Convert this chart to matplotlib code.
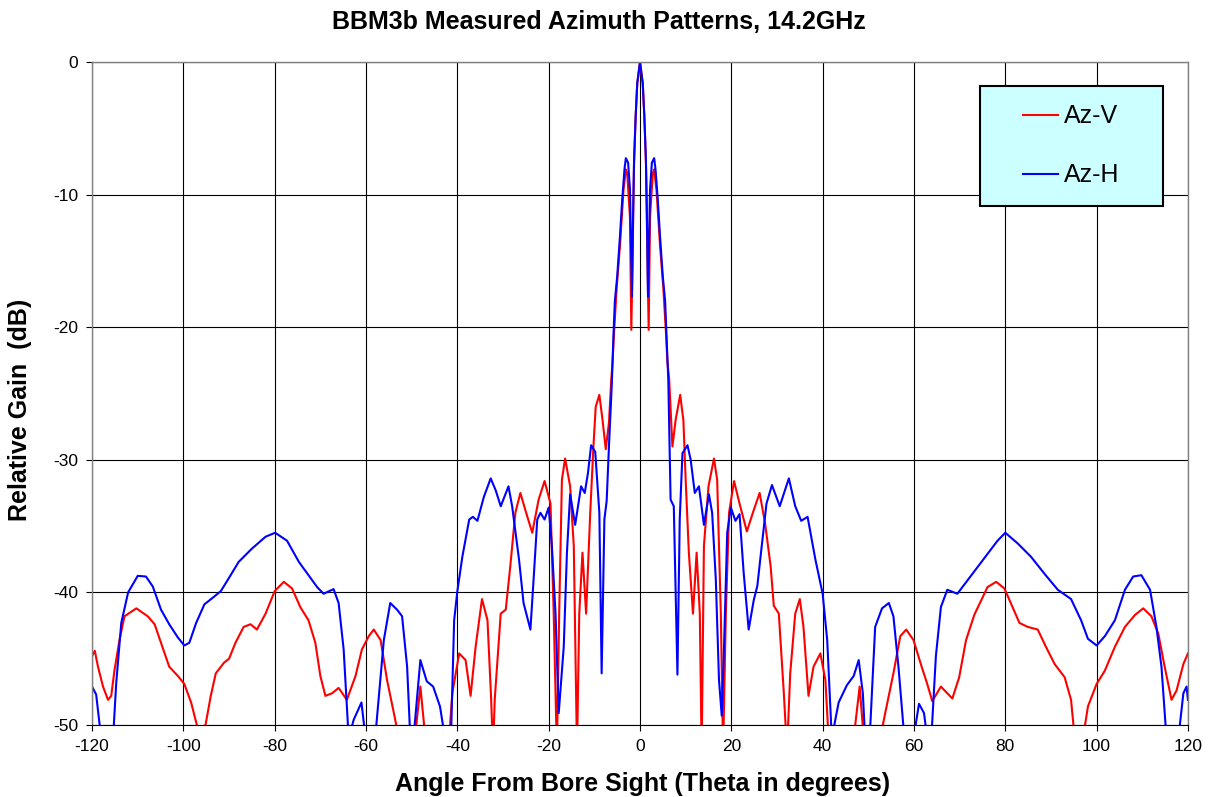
import matplotlib
matplotlib.use("Agg")
import matplotlib.pyplot as plt
from matplotlib.patches import Rectangle

plt.rcParams["font.family"] = ["Liberation Sans", "DejaVu Sans"]
plt.rcParams["axes.unicode_minus"] = False

# values (dB relative to peak); -51 means off the bottom of the chart
az_v_angle = [
    -120, -119.4, -118.7, -117.6, -116.5, -115.8, -115.1, -114.0, -112.9, -110.3,
    -107.8, -106.3, -104.9, -103.1, -101.2, -99.8, -98.3, -97.2, -96.2, -95.1,
    -94.0, -92.9, -91.1, -90.0, -88.6, -86.8, -85.3, -83.9, -82.0, -80.0,
    -78.0, -76.2, -74.4, -72.6, -71.1, -70.0, -68.9, -67.4, -66.0, -64.2,
    -62.3, -60.9, -59.4, -58.3, -56.8, -55.4, -53.9, -52.8, -49.3, -48.1,
    -47.0, -41.8, -41.1, -39.6, -38.2, -37.1, -36.0, -34.6, -33.4, -32.6,
    -32.2, -31.8, -30.5, -29.4, -28.4, -27.3, -26.2, -25.1, -23.6, -22.2,
    -20.9, -19.6, -18.9, -18.2, -17.7, -17.1, -16.4, -15.3, -14.5, -13.8,
    -13.3, -12.6, -11.8, -10.9, -10.2, -9.7, -8.9, -8.2, -7.5, -6.8,
    -6.3, -6.0, -5.7, -5.1, -4.4, -3.6, -3.1, -2.8, -2.2, -1.9,
    -1.6, -1.3, -0.95, -0.6, 0,
    0.6, 0.95, 1.3, 1.6, 1.9, 2.2, 2.8, 3.1, 3.6, 4.4,
    5.1, 5.7, 6.0, 6.4, 7.1, 7.8, 8.8, 9.5, 10.0, 10.7,
    11.6, 12.4, 13.1, 13.5, 14.0, 15.0, 16.2, 16.9, 17.7, 18.2,
    18.8, 19.5, 20.6, 21.8, 23.4, 24.9, 26.2, 27.4, 28.6, 29.3,
    30.4, 31.5, 32.2, 32.9, 34.0, 35.0, 35.8, 36.9, 38.0, 39.5,
    40.6, 41.3, 46.8, 48.1, 49.0, 52.6, 53.7, 55.5, 57.0, 58.3,
    59.9, 61.5, 62.9, 64.0, 65.9, 68.4, 69.9, 71.4, 73.2, 76.1,
    78.0, 79.8, 81.2, 83.1, 84.9, 87.1, 88.9, 90.8, 93.0, 94.4,
    95.2, 97.0, 98.1, 100.0, 101.8, 104.0, 106.2, 108.4, 110.2, 112.0,
    113.5, 114.9, 116.4, 117.5, 119.0, 120,
]
az_v_gain = [
    -44.8, -44.4, -45.6, -47.1, -48.1, -47.8, -45.9, -43.6, -41.8, -41.2,
    -41.8, -42.4, -43.8, -45.6, -46.3, -46.9, -48.3, -49.8, -51.0, -49.9,
    -47.8, -46.1, -45.3, -45.0, -43.8, -42.6, -42.4, -42.8, -41.6, -39.9,
    -39.2, -39.7, -41.1, -42.1, -43.8, -46.3, -47.8, -47.6, -47.2, -48.1,
    -46.3, -44.3, -43.3, -42.8, -43.6, -46.6, -49.1, -51.0, -51.0, -47.1,
    -51.0, -51.0, -47.6, -44.6, -45.1, -47.8, -44.1, -40.5, -42.1, -48.0,
    -52.0, -48.0, -41.6, -41.3, -38.0, -34.0, -32.5, -33.8, -35.5, -33.0,
    -31.6, -33.3, -41.6, -52.0, -41.6, -31.5, -29.9, -32.0, -36.5, -52.0,
    -41.6, -37.0, -41.6, -34.0, -29.0, -26.0, -25.1, -27.0, -29.2, -27.2,
    -24.0, -22.6, -20.5, -17.0, -13.9, -9.6, -8.1, -8.4, -11.7, -20.2,
    -14.2, -7.6, -4.1, -1.6, 0.0,
    -1.6, -4.1, -7.6, -14.2, -20.2, -11.7, -8.4, -8.1, -9.6, -13.9,
    -17.0, -20.5, -22.6, -24.0, -29.0, -27.0, -25.1, -27.0, -31.5, -37.0,
    -41.6, -37.0, -41.6, -52.0, -36.5, -32.0, -29.9, -31.5, -41.6, -52.0,
    -41.6, -34.0, -31.6, -33.3, -35.4, -33.8, -32.5, -34.8, -38.0, -41.0,
    -41.6, -47.6, -52.0, -46.1, -41.6, -40.5, -42.6, -47.8, -45.6, -44.6,
    -46.6, -51.0, -51.0, -47.1, -51.0, -51.0, -49.1, -46.1, -43.3, -42.8,
    -43.6, -45.4, -46.9, -48.2, -47.1, -48.0, -46.4, -43.6, -41.7, -39.6,
    -39.2, -39.7, -40.8, -42.3, -42.6, -42.8, -44.1, -45.4, -46.4, -48.1,
    -51.0, -51.0, -48.6, -46.9, -45.9, -44.1, -42.6, -41.7, -41.2, -41.8,
    -43.1, -45.6, -48.1, -47.4, -45.4, -44.6,
]

az_h_angle = [
    -120, -119.1, -118.0, -115.4, -114.7, -113.6, -112.1, -110.0, -108.2, -106.7,
    -104.9, -103.1, -101.2, -99.8, -98.7, -97.2, -95.4, -93.2, -91.8, -90.0,
    -87.9, -85.0, -82.0, -79.9, -77.3, -74.7, -72.6, -70.7, -69.3, -67.1,
    -66.0, -64.9, -63.8, -62.7, -61.0, -60.1, -58.0, -56.1, -54.7, -53.2,
    -52.1, -51.0, -50.3, -49.6, -48.1, -46.7, -45.3, -43.8, -42.7, -41.4,
    -40.7, -40.0, -38.9, -37.4, -36.6, -35.6, -34.2, -32.7, -31.6, -30.5,
    -28.8, -28.0, -26.5, -25.5, -24.0, -23.3, -22.5, -21.8, -20.9, -20.0,
    -19.3, -18.5, -17.8, -16.7, -16.0, -15.3, -14.2, -12.9, -12.1, -11.4,
    -10.7, -9.8, -8.9, -8.4, -7.8, -7.3, -6.8, -6.2, -5.8, -5.5,
    -5.0, -4.4, -3.9, -3.4, -3.1, -2.6, -2.2, -1.75, -1.5, -1.3,
    -0.95, -0.6, 0,
    0.6, 0.95, 1.3, 1.5, 1.75, 2.2, 2.6, 3.1, 3.4, 3.9,
    4.4, 5.0, 5.5, 5.8, 6.2, 6.7, 7.4, 8.2, 8.7, 9.3,
    10.4, 11.1, 12.0, 12.9, 14.0, 15.1, 15.8, 16.6, 17.3, 17.9,
    18.4, 19.1, 19.9, 20.9, 21.8, 22.7, 23.8, 24.9, 25.7, 26.4,
    27.7, 28.9, 30.6, 32.6, 34.0, 35.3, 36.7, 38.4, 40.0, 41.0,
    42.0, 43.5, 45.3, 46.8, 47.9, 48.8, 49.3, 50.3, 51.5, 53.0,
    54.5, 55.5, 56.6, 57.9, 59.9, 61.1, 62.2, 62.9, 63.8, 64.8,
    65.9, 67.3, 69.5, 71.7, 73.9, 76.1, 78.3, 80.0, 82.7, 85.6,
    88.6, 91.5, 94.4, 96.6, 98.1, 100.0, 101.8, 104.0, 106.2, 108.0,
    109.8, 111.7, 113.1, 114.2, 115.3, 117.9, 119.0, 119.7, 120,
]
az_h_gain = [
    -47.1, -47.7, -51.0, -51.0, -46.8, -42.3, -40.0, -38.75, -38.8, -39.55,
    -41.3, -42.4, -43.4, -44.0, -43.8, -42.3, -40.9, -40.3, -39.9, -38.9,
    -37.7, -36.7, -35.8, -35.5, -36.1, -37.7, -38.7, -39.6, -40.1, -39.75,
    -40.8, -44.3, -51.0, -49.6, -48.3, -51.0, -51.0, -43.6, -40.8, -41.3,
    -41.8, -45.6, -51.0, -51.0, -45.1, -46.7, -47.1, -48.6, -51.0, -51.0,
    -42.1, -39.9, -37.3, -34.5, -34.3, -34.6, -32.8, -31.4, -32.3, -33.5,
    -32.0, -33.5, -37.5, -40.8, -42.8, -39.0, -34.5, -34.0, -34.5, -33.6,
    -36.5, -41.6, -49.1, -44.1, -37.0, -32.6, -34.9, -32.0, -32.5, -31.0,
    -28.9, -29.4, -34.0, -46.1, -34.5, -33.1, -29.0, -24.5, -20.5, -18.0,
    -16.2, -13.2, -10.4, -8.1, -7.25, -7.6, -9.6, -17.7, -11.2, -7.4,
    -4.1, -1.6, 0.0,
    -1.6, -4.1, -7.4, -11.2, -17.7, -9.6, -7.6, -7.25, -8.1, -10.4,
    -13.2, -16.2, -18.0, -20.5, -24.0, -33.0, -33.5, -46.2, -34.5, -29.5,
    -28.9, -30.0, -32.5, -32.0, -34.9, -32.6, -34.0, -39.0, -46.6, -49.3,
    -44.1, -35.5, -33.6, -34.6, -34.1, -38.5, -42.8, -40.6, -39.5, -37.3,
    -33.3, -31.9, -33.5, -31.4, -33.5, -34.6, -34.3, -37.5, -40.1, -43.6,
    -51.0, -48.3, -47.0, -46.3, -45.1, -47.6, -51.0, -51.0, -42.6, -41.2,
    -40.8, -41.8, -45.6, -51.0, -51.0, -48.4, -49.1, -51.0, -51.0, -44.8,
    -41.1, -39.8, -40.1, -39.1, -38.1, -37.1, -36.1, -35.5, -36.3, -37.3,
    -38.6, -39.8, -40.5, -42.1, -43.5, -44.0, -43.3, -42.1, -39.8, -38.8,
    -38.7, -39.8, -42.6, -45.6, -51.0, -51.0, -47.6, -47.1, -48.1,
]

x_ticks = list(range(-120, 121, 20))
y_ticks = list(range(-50, 1, 10))

fig = plt.figure(figsize=(12.08, 7.97), dpi=100)
ax = fig.add_axes([0.0762, 0.0903, 0.9072, 0.8319])

ax.plot(az_v_angle, az_v_gain, color="#ff0000", lw=1.5, label="Az-V")
ax.plot(az_h_angle, az_h_gain, color="#0000ff", lw=1.5, label="Az-H")

ax.set_xlim(-120, 120)
ax.set_ylim(-50, 0)
ax.set_xticks(x_ticks)
ax.set_yticks(y_ticks)
ax.tick_params(labelsize=12.5, direction="out", length=4, color="black", pad=6)
ax.grid(True, color="black", lw=0.8)
ax.set_axisbelow(True)
for s in ["top", "right", "left"]:
    ax.spines[s].set_color("#808080")
    ax.spines[s].set_linewidth(1.0)
ax.spines["bottom"].set_color("black")

fig.text(0.496, 0.972, "BBM3b Measured Azimuth Patterns, 14.2GHz", fontsize=18,
         fontweight="bold", ha="center", va="center")
ax.set_xlabel("Angle From Bore Sight (Theta in degrees)", fontsize=18, fontweight="bold")
ax.set_ylabel("Relative Gain  (dB)", fontsize=18, fontweight="bold")
ax.xaxis.set_label_coords(0.502, -0.071)
ax.yaxis.set_label_coords(-0.055, 0.475)

# legend box (light cyan, black border)
ax.add_patch(Rectangle((0.810, 0.783), 0.167, 0.181, transform=ax.transAxes,
                       facecolor="#ccffff", edgecolor="black", lw=1.5, zorder=4))
leg = ax.legend(loc="center", bbox_to_anchor=(0.8935, 0.8735), fontsize=18,
                frameon=False, labelspacing=1.4, handlelength=1.4,
                handletextpad=0.25, borderaxespad=0.0)
leg.set_zorder(5)

plt.savefig("out.png", dpi=100)
